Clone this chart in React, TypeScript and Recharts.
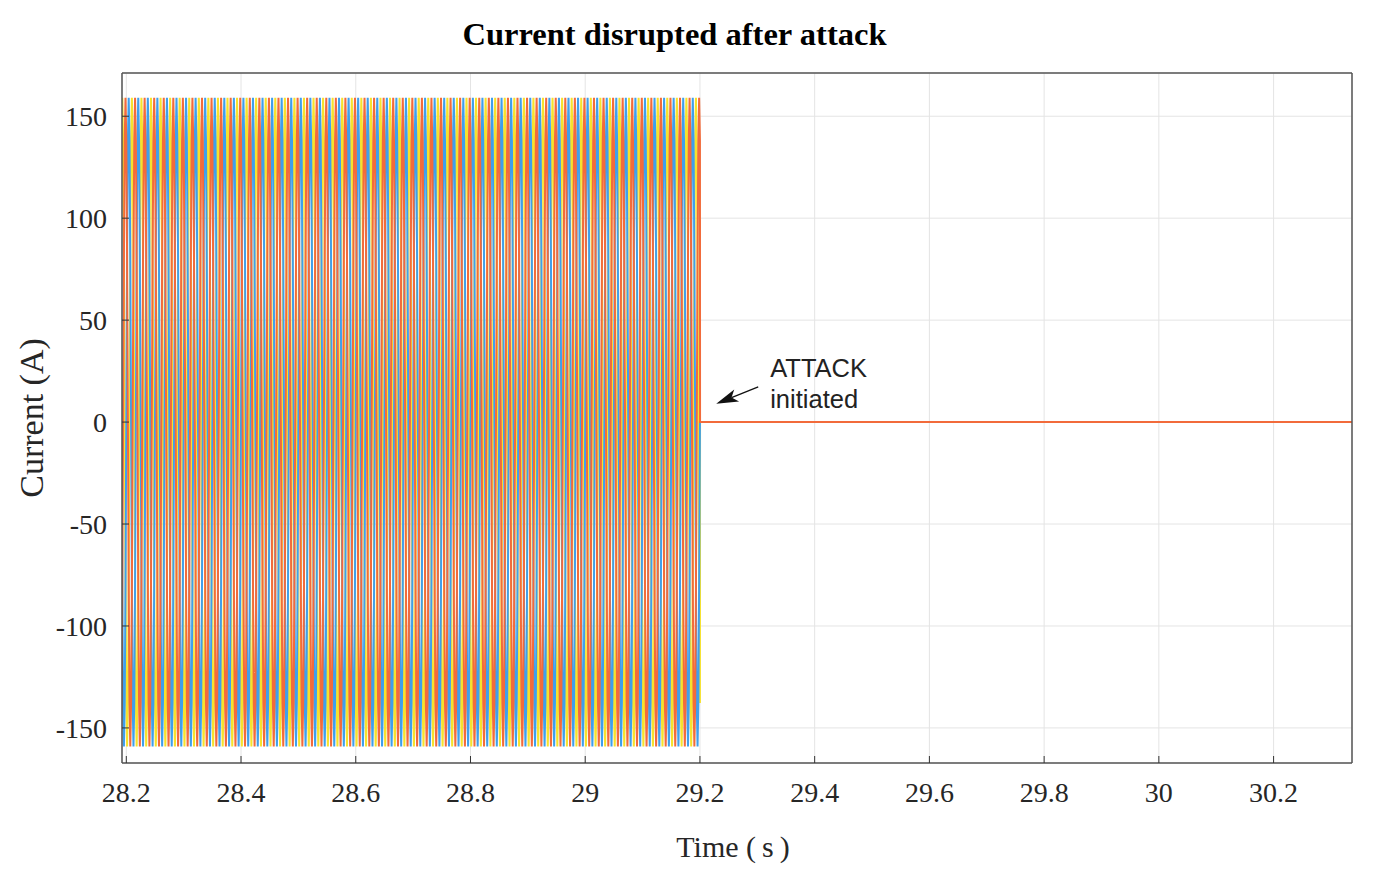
import React from 'react';
import { LineChart, Line, XAxis, YAxis, CartesianGrid, ReferenceLine, ReferenceDot, Label } from 'recharts';

const TITLE = 'Current disrupted after attack';
const X_LABEL = 'Time (\u2009s\u2009)';
const Y_LABEL = 'Current (A)';
const X_TICKS = [28.2, 28.4, 28.6, 28.8, 29, 29.2, 29.4, 29.6, 29.8, 30, 30.2];
const Y_TICKS = [-150, -100, -50, 0, 50, 100, 150];
const X_DOMAIN = [28.1925, 30.3367];
const Y_DOMAIN = [-167.2, 171.2];

// One 60 Hz period of a phase current, read at 30-degree steps (A)
const PHASE_CYCLE = [0, 79.6, 137.8, 159.1, 137.8, 79.6, 0, -79.6, -137.8, -159.1, -137.8, -79.6];
const FREQUENCY_HZ = 60;
const SAMPLES_BEFORE_ATTACK = 727; // ~60.6 periods shown before the attack
const PHASE_SHIFT_STEPS = { blue: 0, orange: 4, yellow: 8 };
const ATTACK_TIME = 29.2;
// After the attack every phase current is zero
const POST_ATTACK_TIMES = [29.2002, 30.3367];
const POST_ATTACK_CURRENT = [0, 0];

const ANNOTATION_HEAD = { t: 29.2284, i: 9.0 };
const ANNOTATION_TAIL = { t: 29.3016, i: 17.3 };
const ANNOTATION_TEXT = [
  { t: 29.3225, i: 22.2, text: 'ATTACK' },
  { t: 29.3225, i: 7.0, text: 'initiated' },
];

const COLORS = { blue: '#3f9fec', orange: '#f26b3b', yellow: '#f6e22e' };

type Row = { t: number; blue: number; orange: number; yellow: number };

const buildRows = (): Row[] => {
  const n = PHASE_CYCLE.length;
  const rows: Row[] = [];
  for (let k = 0; k <= SAMPLES_BEFORE_ATTACK; k++) {
    const t = ATTACK_TIME - (SAMPLES_BEFORE_ATTACK - k) / (FREQUENCY_HZ * n);
    const idx = (((k - SAMPLES_BEFORE_ATTACK) % n) + n) % n;
    rows.push({
      t,
      blue: PHASE_CYCLE[(idx + PHASE_SHIFT_STEPS.blue) % n],
      orange: PHASE_CYCLE[(idx + PHASE_SHIFT_STEPS.orange) % n],
      yellow: PHASE_CYCLE[(idx + PHASE_SHIFT_STEPS.yellow) % n],
    });
  }
  POST_ATTACK_TIMES.forEach((t, j) => {
    rows.push({ t, blue: POST_ATTACK_CURRENT[j], orange: POST_ATTACK_CURRENT[j], yellow: POST_ATTACK_CURRENT[j] });
  });
  return rows;
};

const DATA = buildRows();

const SERIF = '"Liberation Serif", "Times New Roman", serif';
const SANS = '"Liberation Sans", Arial, sans-serif';
const AXIS_COLOR = '#555555';
const TEXT_COLOR = '#262626';

const fmtX = (v: number) => String(Number(v.toFixed(1)));

const Arrow = (props: any) => {
  const { x1, y1, x2, y2 } = props;
  const dx = x2 - x1;
  const dy = y2 - y1;
  const len = Math.sqrt(dx * dx + dy * dy) || 1;
  const ux = dx / len;
  const uy = dy / len;
  const headLen = 22;
  const headHalf = 6.5;
  const bx = x2 - ux * headLen;
  const by = y2 - uy * headLen;
  const px = -uy;
  const py = ux;
  const notchX = x2 - ux * headLen * 0.75;
  const notchY = y2 - uy * headLen * 0.75;
  return (
    <g>
      <line x1={x1} y1={y1} x2={notchX} y2={notchY} stroke="#111" strokeWidth={1.3} />
      <polygon
        points={`${x2},${y2} ${bx + px * headHalf},${by + py * headHalf} ${notchX},${notchY} ${bx - px * headHalf},${by - py * headHalf}`}
        fill="#111"
      />
    </g>
  );
};

const makeTextShape = (text: string) => (props: any) => (
  <text x={props.cx} y={props.cy} fontFamily={SANS} fontSize={25.5} fill="#222">
    {text}
  </text>
);

export default function App() {
  return (
    <div style={{ width: 1376, height: 861, position: 'relative' }}>
      <div
        style={{
          position: 'absolute',
          top: 11,
          left: 0,
          width: 1333,
          textAlign: 'center',
          fontFamily: SERIF,
          fontWeight: 'bold',
          fontSize: 32.5,
          lineHeight: '30px',
          color: '#000',
          zIndex: 2,
        }}
      >
        {TITLE}
      </div>
      <LineChart
        width={1376}
        height={861}
        data={DATA}
        margin={{ top: 64, right: 31, bottom: 46, left: 0 }}
      >
        <CartesianGrid stroke="#e4e4e4" strokeWidth={1} />
        <XAxis
          dataKey="t"
          type="number"
          domain={X_DOMAIN}
          ticks={X_TICKS}
          allowDataOverflow
          tickFormatter={fmtX}
          height={60}
          tickSize={-7}
          tickMargin={26}
          axisLine={{ stroke: AXIS_COLOR, strokeWidth: 1.5 }}
          tickLine={{ stroke: '#333', strokeWidth: 1 }}
          tick={{ fontFamily: SERIF, fontSize: 28, fill: TEXT_COLOR }}
        >
          <Label
            content={(p: any) => {
              const vb = p.viewBox;
              return (
                <text
                  x={vb.x + vb.width / 2 - 4}
                  y={849}
                  textAnchor="middle"
                  fontFamily={SERIF}
                  fontSize={30}
                  fill={TEXT_COLOR}
                >
                  {X_LABEL}
                </text>
              );
            }}
          />
        </XAxis>
        <XAxis
          xAxisId="top"
          orientation="top"
          dataKey="t"
          type="number"
          domain={X_DOMAIN}
          ticks={X_TICKS}
          allowDataOverflow
          height={1}
          tick={false}
          tickSize={-7}
          axisLine={{ stroke: AXIS_COLOR, strokeWidth: 1.5 }}
          tickLine={{ stroke: '#333', strokeWidth: 1 }}
        />
        <YAxis
          type="number"
          domain={Y_DOMAIN}
          ticks={Y_TICKS}
          allowDataOverflow
          width={114}
          tickSize={-7}
          tickMargin={22}
          axisLine={{ stroke: AXIS_COLOR, strokeWidth: 1.5 }}
          tickLine={{ stroke: '#333', strokeWidth: 1 }}
          tick={{ fontFamily: SERIF, fontSize: 28, fill: TEXT_COLOR }}
        >
          <Label
            content={(p: any) => {
              const vb = p.viewBox;
              const cx = vb.x + 23;
              const cy = vb.y + vb.height / 2;
              return (
                <text
                  x={cx}
                  y={cy}
                  transform={`rotate(-90, ${cx}, ${cy})`}
                  textAnchor="middle"
                  dominantBaseline="central"
                  fontFamily={SERIF}
                  fontSize={34}
                  fill={TEXT_COLOR}
                >
                  {Y_LABEL}
                </text>
              );
            }}
          />
        </YAxis>
        <YAxis
          yAxisId="right"
          orientation="right"
          type="number"
          domain={Y_DOMAIN}
          ticks={Y_TICKS}
          allowDataOverflow
          width={1}
          tick={false}
          tickSize={-7}
          axisLine={{ stroke: AXIS_COLOR, strokeWidth: 1.5 }}
          tickLine={{ stroke: '#333', strokeWidth: 1 }}
        />
        <Line dataKey="yellow" stroke={COLORS.yellow} strokeWidth={2} dot={false} isAnimationActive={false} />
        <Line dataKey="blue" stroke={COLORS.blue} strokeWidth={2} dot={false} isAnimationActive={false} />
        <Line dataKey="orange" stroke={COLORS.orange} strokeWidth={2} dot={false} isAnimationActive={false} />
        <ReferenceLine
          segment={[
            { x: ANNOTATION_TAIL.t, y: ANNOTATION_TAIL.i },
            { x: ANNOTATION_HEAD.t, y: ANNOTATION_HEAD.i },
          ]}
          shape={Arrow}
        />
        {ANNOTATION_TEXT.map((a) => (
          <ReferenceDot key={a.text} x={a.t} y={a.i} r={1} shape={makeTextShape(a.text)} />
        ))}
      </LineChart>
    </div>
  );
}
